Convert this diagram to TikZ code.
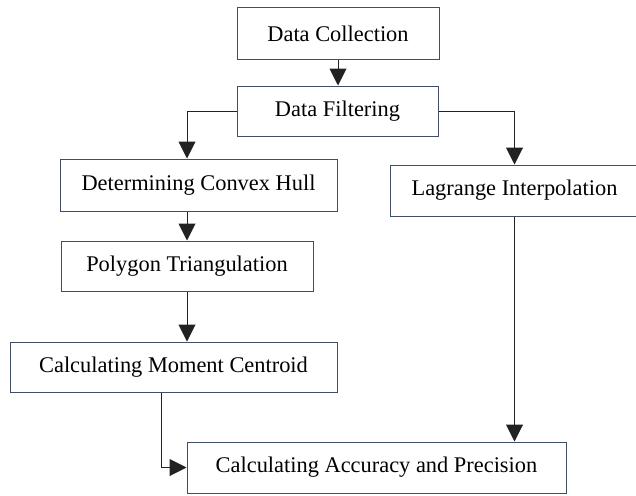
\documentclass[tikz,border=0pt]{standalone}
\usepackage{fontspec}
\setmainfont{Liberation Serif}
\usetikzlibrary{arrows.meta}
\definecolor{boxc}{HTML}{3F4D66}
\definecolor{linec}{HTML}{222222}
\begin{document}
\begin{tikzpicture}[x=1pt,y=-1pt,
  box/.style={draw=boxc, line width=1pt, inner sep=0pt, font=\fontsize{22.4}{26}\selectfont},
  arr/.style={draw=linec, line width=1pt, -{Triangle[width=17pt,length=17pt]}}]
\useasboundingbox (0,0) rectangle (636,495);
\node[box, minimum width=202pt, minimum height=51pt] (dc) at (338,33.5) {Data Collection};
\node[box, minimum width=201pt, minimum height=50pt] (df) at (337.5,111) {Data Filtering};
\node[box, minimum width=277pt, minimum height=52pt] (ch) at (198.5,185) {Determining Convex Hull};
\node[box, minimum width=252pt, minimum height=50pt] (pt) at (187,266) {Polygon Triangulation};
\node[box, minimum width=327pt, minimum height=50pt] (mc) at (173.5,367) {Calculating Moment Centroid};
\node[box, minimum width=249pt, minimum height=51pt] (li) at (514.5,190.5) {Lagrange Interpolation};
\node[box, minimum width=379pt, minimum height=51pt] (cap) at (376.5,467.5) {Calculating Accuracy and Precision};
\draw[arr] (dc.south) -- (dc.south |- df.north);
\draw[arr] (df.west) -| ([xshift=-11.5pt]ch.north);
\draw[arr] (df.east) -| (li.north);
\draw[arr] ([xshift=-11.5pt]ch.south) -- (pt.north);
\draw[arr] (pt.south) -- (pt.south |- mc.north);
\draw[arr] ([xshift=-12.5pt]mc.south) |- (cap.west);
\draw[arr] (li.south) -- (li.south |- cap.north);
\end{tikzpicture}
\end{document}
